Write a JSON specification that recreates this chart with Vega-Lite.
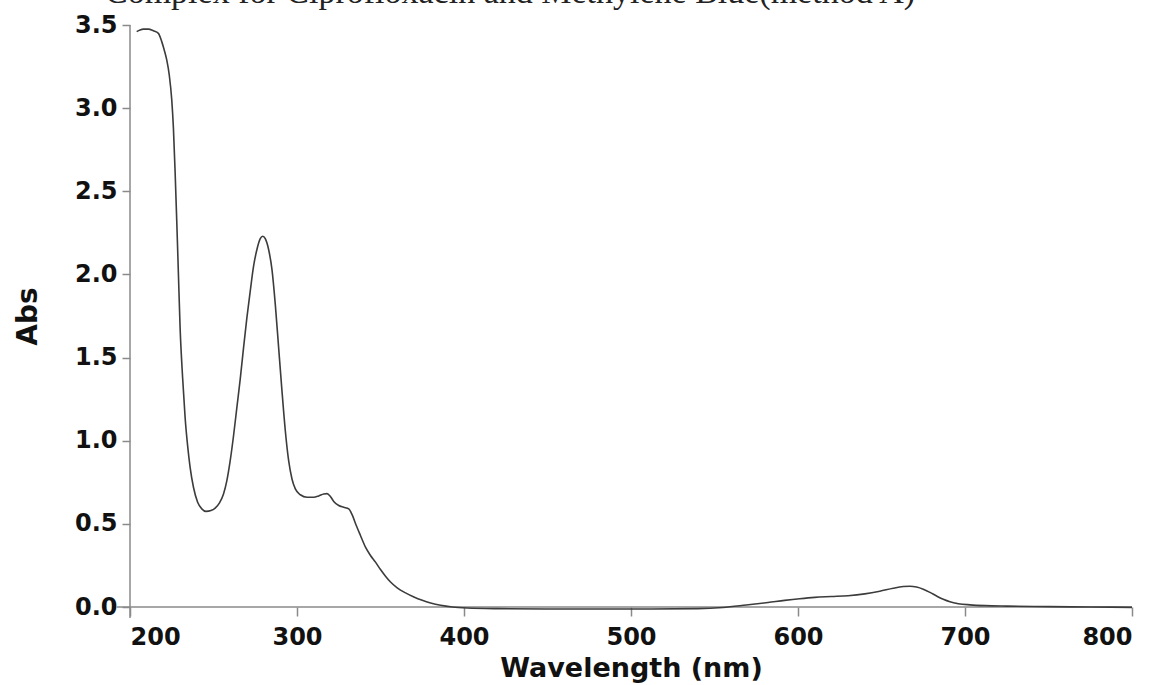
{
  "$schema": "https://vega.github.io/schema/vega-lite/v6.json",
  "width": 1002,
  "height": 582,
  "autosize": {"type": "none"},
  "padding": {"left": 130, "top": 25, "right": 33, "bottom": 78},
  "background": "white",
  "config": {"view": {"stroke": null}},
  "title": {
    "text": "Complex for Ciprofloxacin and Methylene Blue(method A)",
    "font": "Liberation Serif",
    "fontSize": 34,
    "fontWeight": "normal",
    "color": "#222222",
    "anchor": "start",
    "frame": "group",
    "dx": -25,
    "dy": 24,
    "baseline": "alphabetic",
    "offset": 0
  },
  "encoding": {
    "x": {
      "field": "wavelength",
      "type": "quantitative",
      "scale": {"domain": [200, 800], "nice": false, "zero": false},
      "axis": {
        "title": "Wavelength (nm)",
        "values": [200, 300, 400, 500, 600, 700, 800],
        "format": "d",
        "domain": false,
        "grid": false,
        "ticks": true,
        "tickColor": "#8a8a8a",
        "tickWidth": 1.5,
        "tickSize": 9,
        "labelFont": "DejaVu Sans",
        "labelFontWeight": "bold",
        "labelFontSize": 24,
        "labelColor": "#111111",
        "labelPadding": 9,
        "titleFont": "DejaVu Sans",
        "titleFontWeight": "bold",
        "titleFontSize": 27,
        "titleColor": "#111111",
        "titlePadding": 6
      }
    },
    "y": {
      "field": "abs",
      "type": "quantitative",
      "scale": {"domain": [0, 3.5], "nice": false, "zero": false},
      "axis": {
        "title": "Abs",
        "values": [0, 0.5, 1, 1.5, 2, 2.5, 3, 3.5],
        "format": ".1f",
        "domain": false,
        "grid": false,
        "ticks": true,
        "tickColor": "#8a8a8a",
        "tickWidth": 1.5,
        "tickSize": 8,
        "labelFont": "DejaVu Sans",
        "labelFontWeight": "bold",
        "labelFontSize": 24,
        "labelColor": "#111111",
        "labelPadding": 5,
        "titleFont": "DejaVu Sans",
        "titleFontWeight": "bold",
        "titleFontSize": 28,
        "titleColor": "#111111",
        "titlePadding": 32
      }
    }
  },
  "layer": [
    {
      "data": {"values": [{"wavelength": 192, "wavelength2": 800, "abs": 0}]},
      "mark": {"type": "rule", "color": "#8a8a8a", "strokeWidth": 1.5},
      "encoding": {"x2": {"field": "wavelength2"}}
    },
    {
      "data": {"values": [{"wavelength": 200, "abs": -0.066, "abs2": 3.5}]},
      "mark": {"type": "rule", "color": "#8a8a8a", "strokeWidth": 1.5},
      "encoding": {"y2": {"field": "abs2"}}
    },
    {
      "data": {
        "values": [
          {"wavelength": 204, "abs": 3.46},
          {"wavelength": 206, "abs": 3.47},
          {"wavelength": 208, "abs": 3.475},
          {"wavelength": 211, "abs": 3.475},
          {"wavelength": 214, "abs": 3.465},
          {"wavelength": 217, "abs": 3.45},
          {"wavelength": 219, "abs": 3.4},
          {"wavelength": 220.5, "abs": 3.35},
          {"wavelength": 222, "abs": 3.29},
          {"wavelength": 223.5, "abs": 3.2},
          {"wavelength": 225, "abs": 3.05},
          {"wavelength": 226, "abs": 2.88},
          {"wavelength": 227, "abs": 2.62},
          {"wavelength": 228, "abs": 2.32},
          {"wavelength": 229, "abs": 2.0},
          {"wavelength": 230, "abs": 1.68},
          {"wavelength": 231.5, "abs": 1.38},
          {"wavelength": 233, "abs": 1.14},
          {"wavelength": 234.5, "abs": 0.97},
          {"wavelength": 236, "abs": 0.84},
          {"wavelength": 238, "abs": 0.72},
          {"wavelength": 240.5, "abs": 0.63},
          {"wavelength": 243, "abs": 0.59},
          {"wavelength": 245.5, "abs": 0.575},
          {"wavelength": 248.5, "abs": 0.58},
          {"wavelength": 251, "abs": 0.595},
          {"wavelength": 253.5, "abs": 0.625},
          {"wavelength": 256, "abs": 0.68},
          {"wavelength": 258, "abs": 0.76},
          {"wavelength": 260, "abs": 0.88},
          {"wavelength": 262, "abs": 1.03},
          {"wavelength": 264, "abs": 1.2},
          {"wavelength": 266, "abs": 1.37},
          {"wavelength": 268, "abs": 1.56},
          {"wavelength": 270, "abs": 1.74},
          {"wavelength": 272, "abs": 1.9},
          {"wavelength": 274, "abs": 2.05},
          {"wavelength": 276, "abs": 2.15},
          {"wavelength": 278, "abs": 2.215},
          {"wavelength": 279.5, "abs": 2.23},
          {"wavelength": 281, "abs": 2.215},
          {"wavelength": 283, "abs": 2.15},
          {"wavelength": 285, "abs": 2.03},
          {"wavelength": 287, "abs": 1.82},
          {"wavelength": 289, "abs": 1.56},
          {"wavelength": 291, "abs": 1.3},
          {"wavelength": 293, "abs": 1.06},
          {"wavelength": 295, "abs": 0.88},
          {"wavelength": 297, "abs": 0.77},
          {"wavelength": 299, "abs": 0.71},
          {"wavelength": 302, "abs": 0.675},
          {"wavelength": 306, "abs": 0.66},
          {"wavelength": 310, "abs": 0.66},
          {"wavelength": 313, "abs": 0.668},
          {"wavelength": 316, "abs": 0.68},
          {"wavelength": 318, "abs": 0.682},
          {"wavelength": 320, "abs": 0.665},
          {"wavelength": 322, "abs": 0.635},
          {"wavelength": 325, "abs": 0.61},
          {"wavelength": 328, "abs": 0.6},
          {"wavelength": 331, "abs": 0.59},
          {"wavelength": 333, "abs": 0.555},
          {"wavelength": 335.5, "abs": 0.49},
          {"wavelength": 338, "abs": 0.43},
          {"wavelength": 341, "abs": 0.36},
          {"wavelength": 344, "abs": 0.31},
          {"wavelength": 347, "abs": 0.27},
          {"wavelength": 350, "abs": 0.225},
          {"wavelength": 353, "abs": 0.185},
          {"wavelength": 356, "abs": 0.15},
          {"wavelength": 360, "abs": 0.115},
          {"wavelength": 365, "abs": 0.085},
          {"wavelength": 370, "abs": 0.06},
          {"wavelength": 375, "abs": 0.04},
          {"wavelength": 380, "abs": 0.024},
          {"wavelength": 386, "abs": 0.01},
          {"wavelength": 393, "abs": 0.0},
          {"wavelength": 402, "abs": -0.006},
          {"wavelength": 420, "abs": -0.01},
          {"wavelength": 450, "abs": -0.012},
          {"wavelength": 480, "abs": -0.012},
          {"wavelength": 510, "abs": -0.012},
          {"wavelength": 540, "abs": -0.01},
          {"wavelength": 555, "abs": -0.003},
          {"wavelength": 569, "abs": 0.012},
          {"wavelength": 582, "abs": 0.027},
          {"wavelength": 592, "abs": 0.04},
          {"wavelength": 601, "abs": 0.05},
          {"wavelength": 610, "abs": 0.058},
          {"wavelength": 620, "abs": 0.063},
          {"wavelength": 630, "abs": 0.068},
          {"wavelength": 640, "abs": 0.079},
          {"wavelength": 649, "abs": 0.095},
          {"wavelength": 657, "abs": 0.113},
          {"wavelength": 663, "abs": 0.123},
          {"wavelength": 667, "abs": 0.125},
          {"wavelength": 671, "abs": 0.12},
          {"wavelength": 675, "abs": 0.107},
          {"wavelength": 679, "abs": 0.088},
          {"wavelength": 683, "abs": 0.066},
          {"wavelength": 687, "abs": 0.046},
          {"wavelength": 691, "abs": 0.031},
          {"wavelength": 696, "abs": 0.02},
          {"wavelength": 703, "abs": 0.013},
          {"wavelength": 712, "abs": 0.008},
          {"wavelength": 725, "abs": 0.005},
          {"wavelength": 750, "abs": 0.002},
          {"wavelength": 775, "abs": 0.0},
          {"wavelength": 800, "abs": -0.002}
        ]
      },
      "mark": {"type": "line", "color": "#3c3c3c", "strokeWidth": 1.6, "interpolate": "monotone"}
    }
  ]
}
